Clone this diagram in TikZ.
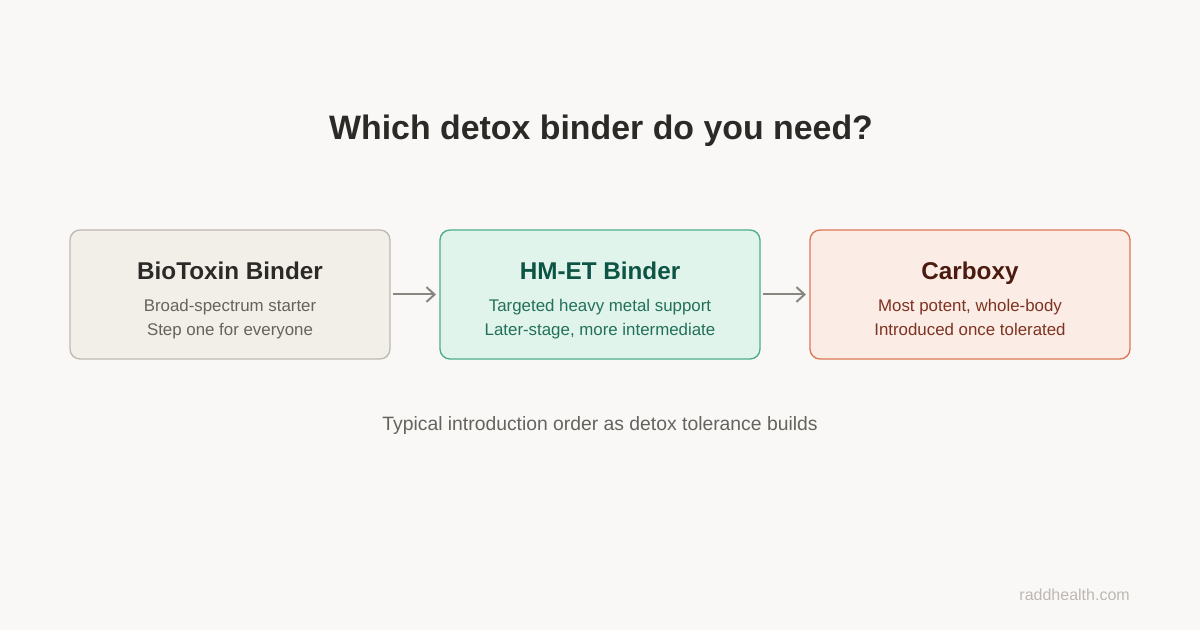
\documentclass[tikz,border=0pt]{standalone}
\usepackage{fontspec}
\setmainfont{Liberation Sans}
\usetikzlibrary{arrows.meta}

\definecolor{canvas}{HTML}{F9F8F6}
\definecolor{ink}{HTML}{2B2A27}
\definecolor{muted}{HTML}{66635E}
\definecolor{faint}{HTML}{BDB9B2}
\definecolor{arrowgray}{HTML}{87867F}
\definecolor{biofill}{HTML}{F2EFE9}
\definecolor{bioline}{HTML}{BFBAB0}
\definecolor{hmfill}{HTML}{E1F4EC}
\definecolor{hmline}{HTML}{4BAE89}
\definecolor{hmtitle}{HTML}{0D5445}
\definecolor{hmtext}{HTML}{23705A}
\definecolor{cbfill}{HTML}{FBECE6}
\definecolor{cbline}{HTML}{DE7754}
\definecolor{cbtitle}{HTML}{4A1B0E}
\definecolor{cbtext}{HTML}{7D3320}

\tikzset{
  binderbox/.style={rounded corners=7.5pt, line width=1pt,
    minimum width=240pt, minimum height=96.75pt},
  boxtitle/.style={anchor=base, inner sep=0pt, font=\fontsize{18.2}{22}\selectfont\bfseries},
  boxline/.style={anchor=base, inner sep=0pt, font=\fontsize{12.65}{15}\selectfont},
  flow/.style={draw=arrowgray, line width=1.5pt,
    -{Straight Barb[length=6pt, width=11pt, line width=1.5pt]}}
}

\begin{document}
\begin{tikzpicture}[x=0.75pt, y=-0.75pt]
  \useasboundingbox (0,0) rectangle (1200,630);
  \fill [canvas] (0,0) rectangle (1200,630);

  \node [anchor=base, inner sep=0pt, text=ink, font=\fontsize{25.4}{30}\selectfont\bfseries]
    (heading) at (601,140) {Which detox binder do you need?};

  % the three binders
  \node [binderbox, draw=bioline, fill=biofill] (bio) at (230,294.5) {};
  \node [binderbox, draw=hmline, fill=hmfill] (hm) at (600,294.5) {};
  \node [binderbox, draw=cbline, fill=cbfill] (cb) at (970,294.5) {};

  \node [boxtitle, text=ink] (biotitle) at (230,280) {BioToxin Binder};
  \node [boxline, text=muted] (bioa) at (230,312) {Broad-spectrum starter};
  \node [boxline, text=muted] (biob) at (230,336) {Step one for everyone};

  \node [boxtitle, text=hmtitle] (hmtitle) at (600,280) {HM-ET Binder};
  \node [boxline, text=hmtext] (hma) at (600,312) {Targeted heavy metal support};
  \node [boxline, text=hmtext] (hmb) at (600,336) {Later-stage, more intermediate};

  \node [boxtitle, text=cbtitle] (cbtitle) at (970,280) {Carboxy};
  \node [boxline, text=cbtext] (cba) at (970,312) {Most potent, whole-body};
  \node [boxline, text=cbtext] (cbb) at (970,336) {Introduced once tolerated};

  \draw [flow, shorten <=1.5pt, shorten >=2.5pt] (bio.east) -- (hm.west);
  \draw [flow, shorten <=1.5pt, shorten >=2.5pt] (hm.east) -- (cb.west);

  \node [anchor=base, inner sep=0pt, text=muted, font=\fontsize{14.5}{17}\selectfont]
    (caption) at (600,430.5) {Typical introduction order as detox tolerance builds};
  \node [anchor=base east, inner sep=0pt, text=faint, font=\fontsize{12}{14}\selectfont]
    (site) at (1130,600) {raddhealth.com};
\end{tikzpicture}
\end{document}
